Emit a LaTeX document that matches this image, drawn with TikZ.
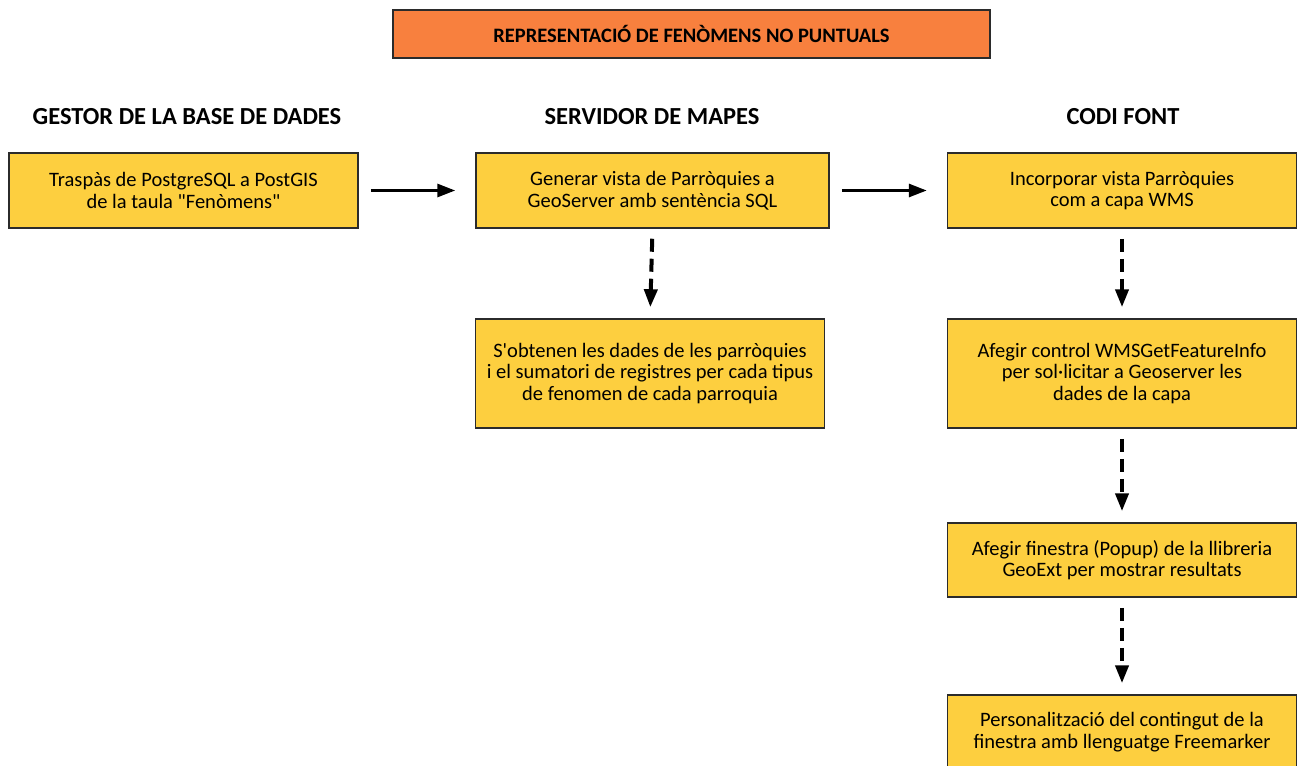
\documentclass[tikz,border=0pt]{standalone}
\usepackage{fontspec}
\setmainfont{Carlito}[Ligatures=TeXOff]
\usetikzlibrary{arrows.meta}
\definecolor{TitleOrange}{HTML}{F8803E}
\definecolor{BoxGold}{HTML}{FDCF3F}
\definecolor{EdgeGrey}{HTML}{2B2B2B}

\begin{document}
\begin{tikzpicture}[
    x=1pt, y=-1pt,
    >={Triangle[length=18pt,width=13pt]},
    every node/.style={font=\fontsize{20.5}{21.5}\selectfont},
    titlebox/.style={draw=EdgeGrey, line width=1.5pt, fill=TitleOrange, minimum width=597pt, minimum height=48pt, font=\fontsize{20.5}{22}\selectfont\bfseries},
    colhead/.style={font=\fontsize{24.5}{26}\selectfont\bfseries},
    taskbox/.style={draw=EdgeGrey, line width=1.5pt, fill=BoxGold, align=center, minimum width=349pt, minimum height=75pt},
    flow/.style={->, line width=3pt, shorten <=12pt, shorten >=20pt},
    dashflow/.style={->, line width=4pt, dash pattern=on 13pt off 7pt, shorten <=10pt, shorten >=11pt}
]
\useasboundingbox (0,0) rectangle (1297,765);
\clip (0,0) rectangle (1297,765);

\node[titlebox] (title) at (691.5,34) {REPRESENTACIÓ DE FENÒMENS NO PUNTUALS};

\node[colhead] (hdb) at (187,117) {GESTOR DE LA BASE DE DADES};
\node[colhead] (hmap) at (652,117) {SERVIDOR DE MAPES};
\node[colhead] (hcode) at (1123,117) {CODI FONT};

\node[taskbox] (trasp) at (183.5,190.5) {Traspàs de PostgreSQL a PostGIS\\de la taula "Fenòmens"};
\node[taskbox, minimum width=353pt] (vista) at (652.5,190.5) {Generar vista de Parròquies a\\GeoServer amb sentència SQL};
\node[taskbox] (incorp) at (1122,190.5) {Incorporar vista Parròquies\\com a capa WMS};
\node[taskbox, minimum height=109pt] (obten) at (650,373.5) {S'obtenen les dades de les parròquies\\i el sumatori de registres per cada tipus\\de fenomen de cada parroquia};
\node[taskbox, minimum height=109pt] (wmsinfo) at (1122,373.5) {Afegir control WMSGetFeatureInfo\\per sol·licitar a Geoserver les\\dades de la capa};
\node[taskbox, minimum height=74pt] (popup) at (1122,560) {Afegir finestra (Popup) de la llibreria\\GeoExt per mostrar resultats};
\node[taskbox, minimum height=74pt] (freem) at (1122,732) {Personalització del contingut de la\\finestra amb llenguatge Freemarker};

\draw[flow] (trasp) -- (vista);
\draw[flow] (vista) -- (incorp);
\draw[dashflow] (vista.south) -- (obten.north);
\draw[dashflow] (incorp.south) -- (wmsinfo.north);
\draw[dashflow] (wmsinfo.south) -- (popup.north);
\draw[dashflow] (popup.south) -- (freem.north);
\end{tikzpicture}
\end{document}
